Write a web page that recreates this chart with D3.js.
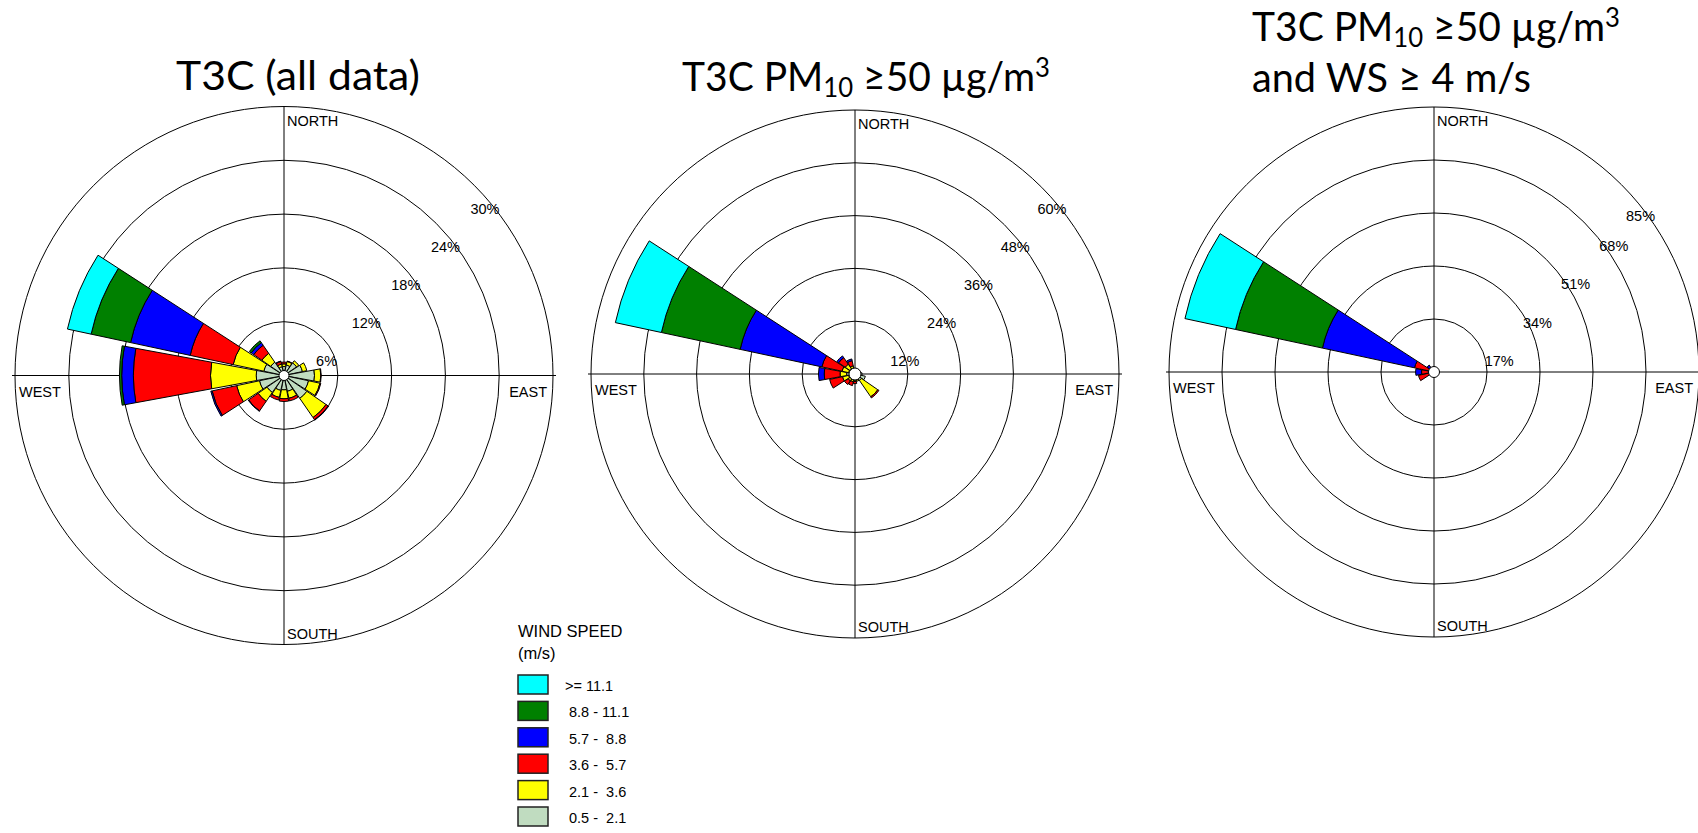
<!DOCTYPE html>
<html>
<head>
<meta charset="utf-8">
<script src="https://cdn.jsdelivr.net/npm/d3@7"></script>
<style>
  body { margin: 0; background: #fff; }
  text { font-family: "Liberation Sans", Arial, sans-serif; fill: #000; }
  .title { font-family: Lato, "Open Sans", sans-serif; font-size: 41px; }
</style>
</head>
<body>
<svg id="roses" width="1698" height="833"></svg>
<script>

// 16 compass points, clockwise from north
var directions = ["N", "NNE", "NE", "ENE", "E", "ESE", "SE", "SSE",
                  "S", "SSW", "SW", "WSW", "W", "WNW", "NW", "NNW"];

// wind speed classes, low to high (m/s)
var speedLabels = [" 0.5 -  2.1", " 2.1 -  3.6", " 3.6 -  5.7", " 5.7 -  8.8", " 8.8 - 11.1", ">= 11.1"];
var speedColors = ["#c0dcc0", "#ffff00", "#ff0000", "#0000ff", "#008000", "#00ffff"];

// T3C (all data) - frequency % per direction
var all_05  = [1.0, 1.2, 1.7, 2.1, 3.4, 2.8, 3.1, 1.8, 1.6, 1.7, 2.3, 2.8, 3.1, 2.3, 1.8, 1.0];
var all_21  = [0.3, 0.4, 0.3, 0.5, 0.7, 1.3, 2.6, 0.8, 1.0, 0.8, 1.2, 2.6, 5.1, 3.5, 1.2, 0.3];
var all_36  = [0.2, 0.05, 0, 0, 0.05, 0.1, 0.3, 0.3, 0.3, 0.3, 1.3, 2.8, 8.6, 4.9, 1.1, 0.3];
var all_57  = [0, 0, 0, 0, 0, 0, 0.05, 0, 0, 0, 0.05, 0.15, 1.3, 6.8, 0.35, 0.05];
var all_88  = [0, 0, 0, 0, 0, 0, 0, 0, 0, 0, 0, 0, 0.25, 4.5, 0.25, 0];
var all_111 = [0, 0, 0, 0, 0, 0, 0, 0, 0, 0, 0, 0, 0, 2.7, 0, 0];
var allTicks = [6, 12, 18, 24, 30];

// T3C PM10 >= 50
var pm_05  = [1.2, 1.2, 1.2, 1.3, 1.6, 2.4, 1.8, 1.4, 1.4, 1.4, 1.4, 1.5, 1.9, 1.5, 1.5, 1.4];
var pm_21  = [0, 0, 0, 0, 0, 0, 4.5, 0.3, 0.3, 0.4, 0.5, 1.4, 1.5, 1.5, 1.2, 0.5];
var pm_36  = [0, 0, 0, 0, 0, 0, 0.3, 0, 0.5, 0.9, 1.0, 3.0, 3.6, 4.7, 1.8, 1.2];
var pm_57  = [0, 0, 0, 0, 0, 0, 0, 0, 0, 0, 0, 0, 1.3, 19.0, 0.5, 0.4];
var pm_88  = [0, 0, 0, 0, 0, 0, 0, 0, 0, 0, 0, 0, 0, 18.3, 0, 0];
var pm_111 = [0, 0, 0, 0, 0, 0, 0, 0, 0, 0, 0, 0, 0, 10.7, 0, 0];
var pmTicks = [12, 24, 36, 48, 60];

// T3C PM10 >= 50 and WS >= 4
var ws_05  = [0, 0, 0, 0, 0, 0, 0, 0, 0, 0, 0, 0, 0, 0, 0, 0];
var ws_21  = [0, 0, 0, 0, 0, 0, 0, 0, 0, 0, 0, 0, 0, 0, 0, 0];
var ws_36  = [0, 0, 0, 0, 0, 0, 0, 0, 0, 0, 0, 5.1, 4.0, 6.4, 1.8, 0];
var ws_57  = [0, 0, 0, 0, 0, 0, 0, 0, 0, 0, 0, 0, 1.9, 30.2, 0.9, 0];
var ws_88  = [0, 0, 0, 0, 0, 0, 0, 0, 0, 0, 0, 0, 0, 28.5, 0, 0];
var ws_111 = [0, 0, 0, 0, 0, 0, 0, 0, 0, 0, 0, 0, 0, 16.6, 0, 0];
var wsTicks = [17, 34, 51, 68, 85];

var PETAL_HALF = 10.4 * Math.PI / 180;

var svg = d3.select("#roses");

svg.append("rect").attr("width", 1698).attr("height", 833).attr("fill", "#fff");


function drawRose(cfg) {
  var g = svg.append("g")
      .attr("transform", "translate(" + cfg.cx + "," + cfg.cy + ")");

  var R = cfg.radius;
  var r = d3.scaleLinear()
      .domain([0, cfg.ticks[cfg.ticks.length - 1]])
      .range([0, R]);

  // rings
  g.selectAll(".ring")
    .data(cfg.ticks)
    .enter().append("circle")
      .attr("class", "ring")
      .attr("r", function(d) { return r(d); })
      .attr("fill", "none")
      .attr("stroke", "#000")
      .attr("stroke-width", 1);

  // cross hairs
  g.append("line").attr("x1", -R - 3).attr("x2", R + 3).attr("y1", 0).attr("y2", 0)
      .attr("stroke", "#000").attr("stroke-width", 1);
  g.append("line").attr("x1", 0).attr("x2", 0).attr("y1", -R).attr("y2", R)
      .attr("stroke", "#000").attr("stroke-width", 1);

  // compass labels
  var compass = g.append("g").style("font-size", "14.5px");
  compass.append("text").attr("x", 3).attr("y", -R + 19).text("NORTH");
  compass.append("text").attr("x", 3).attr("y", R - 6).text("SOUTH");
  compass.append("text").attr("x", -R + 4).attr("y", 21).text("WEST");
  compass.append("text").attr("x", R - 6).attr("y", 21).attr("text-anchor", "end").text("EAST");

  // ring labels, stepped out along the upper right diagonal
  g.selectAll(".tick")
    .data(cfg.ticks)
    .enter().append("text")
      .attr("class", "tick")
      .attr("text-anchor", "middle")
      .attr("dy", "0.35em")
      .style("font-size", "14.5px")
      .each(function(d, i) {
        var k = i + 1;
        var x = cfg.lab[0] + cfg.lab[2] * k,
            y = cfg.lab[1] - cfg.lab[3] * k;
        var dist = Math.sqrt(x * x + y * y);
        if (dist > R - 6) { x *= (R - 6) / dist; y *= (R - 6) / dist; }
        d3.select(this).attr("x", x).attr("y", y);
      })
      .text(function(d) { return d + "%"; });

  // stack the speed classes per direction
  var petals = [];
  directions.forEach(function(dir, i) {
    var cum = 0;
    cfg.bins.forEach(function(bin, j) {
      var v = bin[i];
      if (v > 0) {
        petals.push({ dir: i, cls: j, r0: cum, r1: cum + v });
      }
      cum += v;
    });
  });

  var arc = d3.arc()
      .innerRadius(function(d) { return r(d.r0); })
      .outerRadius(function(d) { return r(d.r1); })
      .startAngle(function(d) { return d.dir * Math.PI / 8 - PETAL_HALF; })
      .endAngle(function(d) { return d.dir * Math.PI / 8 + PETAL_HALF; });

  g.selectAll(".petal")
    .data(petals)
    .enter().append("path")
      .attr("class", "petal")
      .attr("d", arc)
      .attr("fill", function(d) { return speedColors[d.cls]; })
      .attr("stroke", "#000")
      .attr("stroke-width", 1)
      .attr("stroke-linejoin", "round");

  // calm circle
  g.append("circle")
      .attr("r", cfg.calm)
      .attr("fill", "#fff")
      .attr("stroke", "#000")
      .attr("stroke-width", 1);
}


drawRose({ cx: 284, cy: 375.5, radius: 269, calm: 5,
           ticks: allTicks, bins: [all_05, all_21, all_36, all_57, all_88, all_111],
           lab: [3, 23, 39.6, 38] });
drawRose({ cx: 855, cy: 374, radius: 264, calm: 6,
           ticks: pmTicks, bins: [pm_05, pm_21, pm_36, pm_57, pm_88, pm_111],
           lab: [13, 24.6, 36.8, 38] });
drawRose({ cx: 1434, cy: 372, radius: 265, calm: 5.5,
           ticks: wsTicks, bins: [ws_05, ws_21, ws_36, ws_57, ws_88, ws_111],
           lab: [27, 27.5, 38.2, 38.5] });


// titles - Lato stands in for Calibri, so squeeze/stretch each line to the original width
function fitTitle(x, y, width, build) {
  var g = svg.append("g");
  var t = g.append("text").attr("class", "title").attr("x", 0).attr("y", y);
  build(t);
  var k = width / t.node().getBBox().width;
  g.attr("transform", "translate(" + x + ",0) scale(" + k + ",1)");
}

function pmTitle(t) {
  t.append("tspan").text("T3C PM");
  t.append("tspan").attr("dy", 6).style("font-size", "27px").text("10");
  t.append("tspan").attr("dy", -6).text(" \u226550 \u00b5g/m");
  t.append("tspan").attr("dy", -14).style("font-size", "27px").text("3");
}

fitTitle(176, 90, 244, function(t) { t.text("T3C (all data)"); });
fitTitle(682, 91, 368, pmTitle);
fitTitle(1252, 41, 368, pmTitle);
fitTitle(1252, 92, 279, function(t) { t.text("and WS \u2265 4 m/s"); });


// legend
var legend = svg.append("g").attr("transform", "translate(518,0)");
legend.append("text").attr("y", 637).style("font-size", "16.5px").text("WIND SPEED");
legend.append("text").attr("y", 659).style("font-size", "16.5px").text("(m/s)");

var legendRows = d3.range(speedLabels.length).reverse();
var item = legend.selectAll(".item")
    .data(legendRows)
    .enter().append("g")
      .attr("class", "item")
      .attr("transform", function(d, i) { return "translate(0," + (675 + i * 26.4) + ")"; });

item.append("rect")
    .attr("width", 30)
    .attr("height", 19)
    .attr("fill", function(d) { return speedColors[d]; })
    .attr("stroke", "#222")
    .attr("stroke-width", 1.5);

item.append("text")
    .attr("x", 47)
    .attr("y", 16)
    .attr("xml:space", "preserve")
    .style("white-space", "pre")
    .style("font-size", "14.5px")
    .text(function(d) { return speedLabels[d]; });

</script>
</body>
</html>
